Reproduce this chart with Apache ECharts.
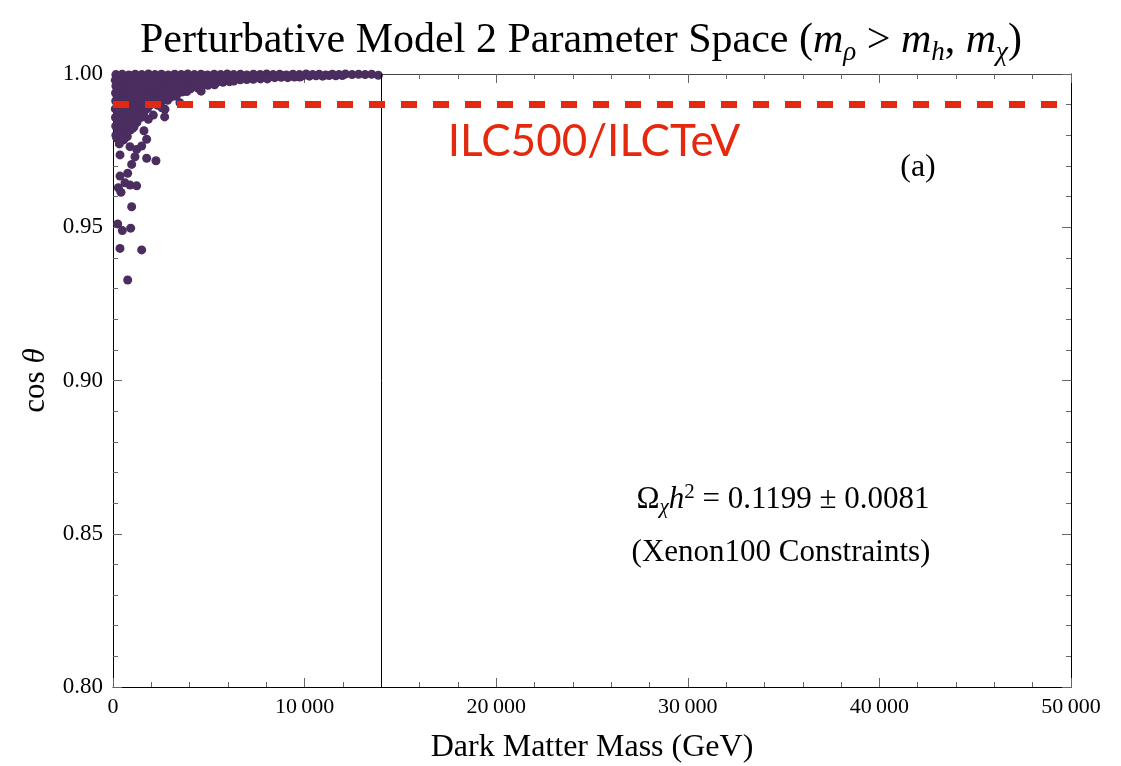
<!DOCTYPE html>
<html>
<head>
<meta charset="utf-8">
<title>Perturbative Model 2 Parameter Space</title>
<script src="https://cdn.jsdelivr.net/npm/echarts@6.0.0/dist/echarts.min.js"></script>
<style>
  html, body { margin: 0; padding: 0; background: #fff; }
  #chart { width: 1121px; height: 766px; }
</style>
</head>
<body>
<div id="chart"></div>
<script>
// axis ranges
const massMin = 0, massMax = 50000, massStep = 10000;
const cosMin = 0.8, cosMax = 1.0, cosStep = 0.05;
// ILC reach and the mass cut line
const ilcLimit = 0.99;
const massCut = 14000;

// dense band of scan points near cos(theta) = 1  [mass GeV, cos theta]
const bandPoints = [
  [150,0.9998],[480,0.9999],[820,0.9997],[1160,0.9999],[1500,0.9998],[1850,1.0],[2190,0.9998],[2530,0.9999],[2880,0.9997],[3220,0.9999],
  [3560,0.9998],[3900,1.0],[4250,0.9998],[4590,0.9999],[4930,0.9997],[5280,0.9999],[5620,0.9998],[5960,1.0],[6300,0.9998],[6650,0.9999],
  [6990,0.9997],[7330,0.9999],[7680,0.9998],[8020,1.0],[8360,0.9998],[8700,0.9999],[9050,0.9997],[9390,0.9999],[9730,0.9998],[10080,1.0],
  [10420,0.9998],[10760,0.9999],[11100,0.9997],[11450,0.9999],[11790,0.9998],[12130,1.0],[12480,0.9998],[12820,0.9999],[13160,0.9998],[13500,0.9999],[13850,0.9996],
  [300,0.9993],[640,0.9992],[990,0.9994],[1330,0.9993],[1670,0.9991],[2020,0.9993],[2360,0.9994],[2700,0.9992],[3040,0.9993],[3390,0.9991],
  [3730,0.9994],[4070,0.9993],[4420,0.9992],[4760,0.9994],[5100,0.9993],[5450,0.9991],[5790,0.9993],[6130,0.9994],[6480,0.9992],[6820,0.9993],
  [7160,0.9992],[7510,0.9994],[7850,0.9993],[8190,0.9992],[8540,0.9993],[8880,0.9994],[9220,0.9993],[9570,0.9992],[9910,0.9994],[10250,0.9993],
  [10600,0.9994],[10940,0.9993],[11280,0.9995],[11630,0.9994],[11970,0.9995],
  [200,0.9987],[540,0.9986],[880,0.9988],[1230,0.9985],[1570,0.9987],[1910,0.9986],[2260,0.9988],[2600,0.9986],[2940,0.9987],[3290,0.9985],
  [3630,0.9987],[3970,0.9988],[4320,0.9986],[4660,0.9987],[5000,0.9985],[5350,0.9987],[5690,0.9988],[6030,0.9986],[6380,0.9987],[6720,0.9986],
  [7060,0.9988],[7410,0.9987],[7750,0.9988],[8090,0.9987],[8440,0.9988],[8780,0.9989],[9120,0.9988],[9470,0.9990],[9750,0.9990],
  [120,0.9980],[460,0.9979],[800,0.9981],[1150,0.9978],[1490,0.9980],[1830,0.9981],[2180,0.9979],[2520,0.9980],[2860,0.9978],[3210,0.9980],
  [3550,0.9981],[3890,0.9979],[4240,0.9980],[4580,0.9978],[4920,0.9980],[5270,0.9981],[5610,0.9979],[5950,0.9980],[6300,0.9978],[6640,0.9981],
  [6980,0.9982],[7320,0.9983],[7700,0.9984],[8050,0.9984],
  [250,0.9971],[590,0.9970],[930,0.9972],[1280,0.9969],[1620,0.9971],[1960,0.9972],[2310,0.9970],[2650,0.9971],[2990,0.9969],[3340,0.9971],
  [3680,0.9972],[4020,0.9970],[4370,0.9971],[4710,0.9969],[5050,0.9971],[5400,0.9972],[5740,0.9973],[6080,0.9975],[6300,0.9977],
  [150,0.9961],[490,0.9960],[830,0.9962],[1180,0.9959],[1520,0.9961],[1860,0.9962],[2210,0.9960],[2550,0.9961],[2890,0.9959],[3240,0.9961],
  [3580,0.9962],[3920,0.9960],[4270,0.9961],[4610,0.9960],[4950,0.9963],[5300,0.9965],
  [280,0.9950],[620,0.9949],[960,0.9951],[1310,0.9948],[1650,0.9950],[1990,0.9951],[2340,0.9949],[2680,0.9950],[3020,0.9948],[3370,0.9950],
  [3710,0.9951],[4050,0.9952],[4450,0.9953],[4600,0.9944],
  [130,0.9938],[470,0.9937],[810,0.9939],[1160,0.9936],[1500,0.9938],[1840,0.9939],[2190,0.9937],[2530,0.9938],[2870,0.9936],[3220,0.9939],
  [3600,0.9941],[3850,0.9943],
  [260,0.9925],[600,0.9924],[940,0.9926],[1290,0.9923],[1630,0.9925],[1970,0.9926],[2320,0.9924],[2660,0.9925],[3000,0.9924],[3300,0.9927],
  [140,0.9912],[480,0.9911],[820,0.9913],[1170,0.9910],[1510,0.9912],[1850,0.9913],[2200,0.9911],[2540,0.9912],[2850,0.9914],
  [270,0.9899],[610,0.9898],[950,0.9900],[1300,0.9897],[1640,0.9899],[1980,0.9900],[2330,0.9898],[3493,0.9906],
  [120,0.9886],[460,0.9885],[800,0.9887],[1150,0.9884],[1490,0.9886],[1800,0.9887],[2711,0.9885],[2550,0.9890],
  [250,0.9872],[590,0.9871],[930,0.9873],[1280,0.9870],[1600,0.9872],[2103,0.9866],[2695,0.9860],
  [130,0.9858],[470,0.9857],[810,0.9859],[1160,0.9856],[1450,0.9858],[1842,0.9852],
  [260,0.9844],[600,0.9843],[940,0.9845],[1250,0.9842],
  [140,0.9830],[480,0.9829],[820,0.9831],[1100,0.9828],
  [280,0.9816],[620,0.9815],[900,0.9817],[1616,0.9815],[1026,0.9823],
  [365,0.9809],[700,0.9803],[150,0.9800]
];

// scattered points further below  [mass GeV, cos theta]
const tailPoints = [
  [747,0.9796],[200,0.9790],[560,0.9785],[1756,0.9787],[330,0.9772],[887,0.9763],[1496,0.9765],[1235,0.9754],
  [365,0.9736],[1147,0.9730],[1756,0.9725],[2242,0.9717],[974,0.9705],[365,0.9667],[766,0.9676],[626,0.9645],
  [887,0.9638],[1235,0.9635],[278,0.9629],[417,0.9614],[974,0.9567],[245,0.9511],[487,0.9489],[922,0.9497],
  [365,0.9431],[1496,0.9426],[766,0.9328]
];

const serif = 'Liberation Serif';
const tickColor = '#666';

function massLabel(v) {
  if (v < 10000) return String(v);
  const s = String(v);
  return s.slice(0, s.length - 3) + '\u2009' + s.slice(-3);
}

const chart = echarts.init(document.getElementById('chart'));

const option = {
  backgroundColor: '#fff',
  animation: false,
  title: {
    text: 'Perturbative Model 2 Parameter Space ({i|m}{s|ρ} > {i|m}{s|h}, {i|m}{s|χ})',
    left: 135,
    top: 11,
    textStyle: {
      fontFamily: serif, fontSize: 42, fontWeight: 'normal', color: '#000', lineHeight: 50,
      rich: {
        i: { fontFamily: serif, fontSize: 42, fontStyle: 'italic', color: '#000', lineHeight: 50 },
        s: { fontFamily: serif, fontSize: 27, fontStyle: 'italic', color: '#000', verticalAlign: 'bottom', lineHeight: 24 }
      }
    }
  },
  grid: { left: 113, right: 50, top: 74, bottom: 79, outerBoundsMode: 'none' },
  xAxis: [
    {
      type: 'value', min: massMin, max: massMax, interval: massStep,
      name: 'Dark Matter Mass (GeV)', nameLocation: 'middle', nameGap: 45,
      nameTextStyle: { fontFamily: serif, fontSize: 32, color: '#000' },
      axisLine: { onZero: false, lineStyle: { color: '#000', width: 1 } },
      axisTick: { inside: true, length: 9, lineStyle: { color: tickColor } },
      minorTick: { show: true, splitNumber: 5, length: 5, lineStyle: { color: tickColor } },
      splitLine: { show: false },
      axisLabel: { fontFamily: serif, fontSize: 22, color: '#000', margin: 9, formatter: massLabel }
    },
    {
      type: 'value', min: massMin, max: massMax, interval: massStep, position: 'top',
      axisLine: { onZero: false, lineStyle: { color: '#444', width: 1 } },
      axisTick: { inside: true, length: 9, lineStyle: { color: tickColor } },
      minorTick: { show: true, splitNumber: 5, length: 5, lineStyle: { color: tickColor } },
      splitLine: { show: false },
      axisLabel: { show: false }
    }
  ],
  yAxis: [
    {
      type: 'value', min: cosMin, max: cosMax, interval: cosStep,
      name: '{n|cos }{i|θ}', nameLocation: 'middle', nameGap: 62, nameRotate: 90,
      nameTextStyle: {
        fontFamily: serif, fontSize: 31, color: '#000',
        rich: {
          n: { fontFamily: serif, fontSize: 31, color: '#000' },
          i: { fontFamily: serif, fontSize: 31, fontStyle: 'italic', color: '#000' }
        }
      },
      axisLine: { onZero: false, lineStyle: { color: '#000', width: 1 } },
      axisTick: { inside: true, length: 9, lineStyle: { color: tickColor } },
      minorTick: { show: true, splitNumber: 5, length: 5, lineStyle: { color: tickColor } },
      splitLine: { show: false },
      axisLabel: { fontFamily: serif, fontSize: 23, color: '#000', margin: 10, formatter: v => v.toFixed(2) }
    },
    {
      type: 'value', min: cosMin, max: cosMax, interval: cosStep, position: 'right',
      axisLine: { onZero: false, lineStyle: { color: '#000', width: 1 } },
      axisTick: { inside: true, length: 9, lineStyle: { color: tickColor } },
      minorTick: { show: true, splitNumber: 5, length: 5, lineStyle: { color: tickColor } },
      splitLine: { show: false },
      axisLabel: { show: false }
    }
  ],
  series: [
    {
      name: 'scan',
      type: 'scatter',
      xAxisIndex: 0, yAxisIndex: 0,
      symbolSize: 9,
      itemStyle: { color: '#4b2d5f', opacity: 1 },
      data: bandPoints.concat(tailPoints),
      z: 2
    },
    {
      name: 'limits',
      type: 'line',
      xAxisIndex: 0, yAxisIndex: 0,
      data: [],
      z: 5,
      markLine: {
        silent: true,
        symbol: ['none', 'none'],
        label: { show: false },
        emphasis: { disabled: true },
        data: [
          { xAxis: massCut, lineStyle: { color: '#000', width: 1, type: 'solid' } },
          [
            { coord: [massMin, ilcLimit], lineStyle: { color: '#e4290e', width: 7, type: [16, 16], cap: 'butt' } },
            { coord: [massMax, ilcLimit] }
          ]
        ]
      }
    }
  ],
  graphic: [
    {
      type: 'text', x: 594, y: 142, z: 10,
      style: { text: 'ILC500/ILCTeV', fill: '#e4290e', fontFamily: 'Lato', fontSize: 44, align: 'center', verticalAlign: 'middle' }
    },
    {
      type: 'text', x: 918, y: 168, z: 10,
      style: { text: '(a)', fill: '#000', fontFamily: serif, fontSize: 32, align: 'center', verticalAlign: 'middle' }
    },
    {
      type: 'text', x: 783, y: 500, z: 10,
      style: {
        text: '{o|Ω}{s|χ}{i|h}{p|2}{o| = 0.1199 ± 0.0081}',
        align: 'center', verticalAlign: 'middle',
        fontFamily: serif, fontSize: 31, fill: '#000',
        rich: {
          o: { fontFamily: serif, fontSize: 31, fill: '#000', lineHeight: 36 },
          i: { fontFamily: serif, fontSize: 31, fontStyle: 'italic', fill: '#000', lineHeight: 36 },
          s: { fontFamily: serif, fontSize: 21, fontStyle: 'italic', fill: '#000', verticalAlign: 'bottom', lineHeight: 14 },
          p: { fontFamily: serif, fontSize: 21, fill: '#000', verticalAlign: 'top', lineHeight: 20 }
        }
      }
    },
    {
      type: 'text', x: 781, y: 553, z: 10,
      style: { text: '(Xenon100 Constraints)', fill: '#000', fontFamily: serif, fontSize: 31, align: 'center', verticalAlign: 'middle' }
    }
  ]
};

chart.setOption(option);
</script>
</body>
</html>
